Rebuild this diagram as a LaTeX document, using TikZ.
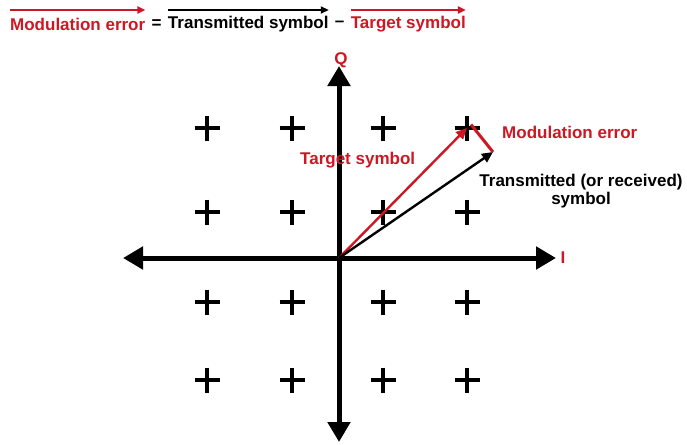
\documentclass[tikz,border=0pt]{standalone}
\usepackage{fontspec}
\setmainfont{Liberation Sans}
\usetikzlibrary{arrows.meta}
\definecolor{myred}{RGB}{204,24,36}
\tikzset{
  lbl/.style={font=\fontsize{17}{19}\selectfont\bfseries, inner sep=0pt},
  axis/.style={line width=5pt, -{Triangle[length=20pt,width=22pt]}},
  vec/.style={line width=2.4pt, -{Triangle[length=11pt,width=10pt]}},
  topvec/.style={line width=2pt, -{Triangle[length=8pt,width=7pt]}},
  plus/.style={line width=3.2pt},
}
\begin{document}
\begin{tikzpicture}[x=1pt,y=-1pt]
\useasboundingbox (0,0) rectangle (687,444);
% top equation
\node[lbl, text=myred, anchor=west] (eqme) at (10,24) {Modulation error};
\node[lbl, anchor=west, inner xsep=6pt] (eqeq) at (eqme.east) {=};
\node[lbl, anchor=west] (eqts) at (eqeq.east) {Transmitted symbol};
\node[lbl, anchor=west, inner xsep=6pt] (eqmi) at (eqts.east) {--};
\node[lbl, text=myred, anchor=west] (eqtg) at (eqmi.east) {Target symbol};
\draw[topvec, myred] (eqme.west |- 0,10) -- (eqme.east |- 0,10);
\draw[topvec, black] (eqts.west |- 0,10) -- (eqts.east |- 0,10);
\draw[topvec, myred] (eqtg.west |- 0,10) -- (eqtg.east |- 0,10);
% axes
\coordinate (O) at (339,258);
\coordinate (xl) at (123,258);
\coordinate (xr) at (556,258);
\coordinate (yt) at (339,66);
\coordinate (yb) at (339,442);
\draw[axis] (O) -- (xl);
\draw[axis] (O) -- (xr);
\draw[axis] (O) -- (yt);
\draw[axis] (O) -- (yb);
\node[lbl, text=myred] (Q) at (341,60) {Q};
\node[lbl, text=myred] (I) at (563,258) {I};
% constellation
\foreach \x in {207,292,383,467}{
  \foreach \y in {128,212,302,380}{
    \draw[plus] (\x-12.5,\y) -- (\x+12.5,\y);
    \draw[plus] (\x,\y-12.5) -- (\x,\y+12.5);
  }
}
% vectors
\coordinate (T) at (467,128);
\coordinate (R) at (493,152);
\draw[vec, myred] (O) -- (T);
\draw[vec, black] (O) -- (R);
\draw[line width=3pt, myred] (R) -- ([shift={(4pt,3.5pt)}]T);
% labels
\node[lbl, text=myred, anchor=west] (lme) at (502,132) {Modulation error};
\node[lbl, text=myred, anchor=west] (lts) at (300,160) {Target symbol};
\node[lbl, align=center] (ltr) at (581,191) {Transmitted (or received)\\[-1pt]symbol};
\end{tikzpicture}
\end{document}
